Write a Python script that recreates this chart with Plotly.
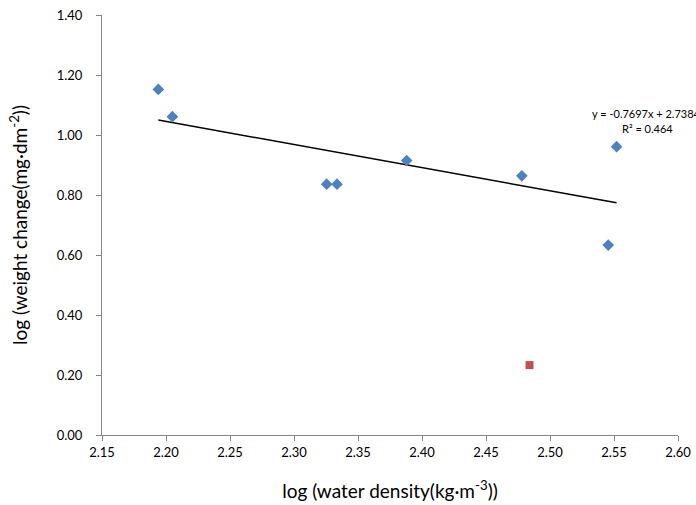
import plotly.graph_objects as go

# Data
x_blue = [2.194, 2.205, 2.3255, 2.3336, 2.388, 2.478, 2.552, 2.5455]
y_blue = [1.152, 1.061, 0.836, 0.836, 0.915, 0.864, 0.961, 0.633]
x_red = [2.484]
y_red = [0.233]

slope = -0.7697
intercept = 2.7384
r2 = 0.464

x_ticks = [2.15, 2.20, 2.25, 2.30, 2.35, 2.40, 2.45, 2.50, 2.55, 2.60]
y_ticks = [0.00, 0.20, 0.40, 0.60, 0.80, 1.00, 1.20, 1.40]

trend_x = [min(x_blue), max(x_blue)]
trend_y = [slope * v + intercept for v in trend_x]

FONT = "Lato, 'Liberation Sans', sans-serif"

fig = go.Figure()
fig.add_trace(go.Scatter(x=trend_x, y=trend_y, mode="lines",
                         line=dict(color="black", width=1.5), showlegend=False))
fig.add_trace(go.Scatter(x=x_blue, y=y_blue, mode="markers",
                         marker=dict(symbol="diamond", size=9, color="#4F81BD"),
                         showlegend=False))
fig.add_trace(go.Scatter(x=x_red, y=y_red, mode="markers",
                         marker=dict(symbol="square", size=8, color="#C0504D"),
                         showlegend=False))

fig.add_annotation(x=2.5310, y=1.072, xref="x", yref="y",
                   text="y = %.4fx + %.4f" % (slope, intercept),
                   showarrow=False, xanchor="left", yanchor="middle",
                   font=dict(family=FONT, size=11, color="black"))
fig.add_annotation(x=2.5758, y=1.023, xref="x", yref="y",
                   text="R² = %.3f" % r2,
                   showarrow=False, xanchor="center", yanchor="middle",
                   font=dict(family=FONT, size=11, color="black"))

axis_common = dict(showgrid=False, zeroline=False, showline=True,
                   linecolor="#868686", linewidth=1, ticks="outside",
                   tickcolor="#868686", ticklen=5, mirror=False,
                   automargin=False,
                   tickfont=dict(family=FONT, size=13, color="black"))

fig.update_xaxes(range=[2.15, 2.60], tickvals=x_ticks,
                 ticktext=["%.2f" % v for v in x_ticks],
                 ticklabelstandoff=0,
                 title=dict(text="log (water density(kg·m<sup>-3</sup>))",
                            font=dict(family=FONT, size=19, color="black"),
                            standoff=26),
                 **axis_common)
fig.update_yaxes(range=[0, 1.40], tickvals=y_ticks,
                 ticktext=["%.2f" % v for v in y_ticks],
                 ticklabelstandoff=11,
                 title=dict(text="log (weight change(mg·dm<sup>-2</sup>))",
                            font=dict(family=FONT, size=19, color="black"),
                            standoff=24),
                 **axis_common)

fig.update_layout(width=696, height=505,
                  margin=dict(l=102, r=18, t=15, b=70),
                  plot_bgcolor="white", paper_bgcolor="white")

fig.write_html("out.html", config={"displayModeBar": False},
               post_script="document.body.style.margin='0';"
                           "document.body.style.overflow='hidden';")
